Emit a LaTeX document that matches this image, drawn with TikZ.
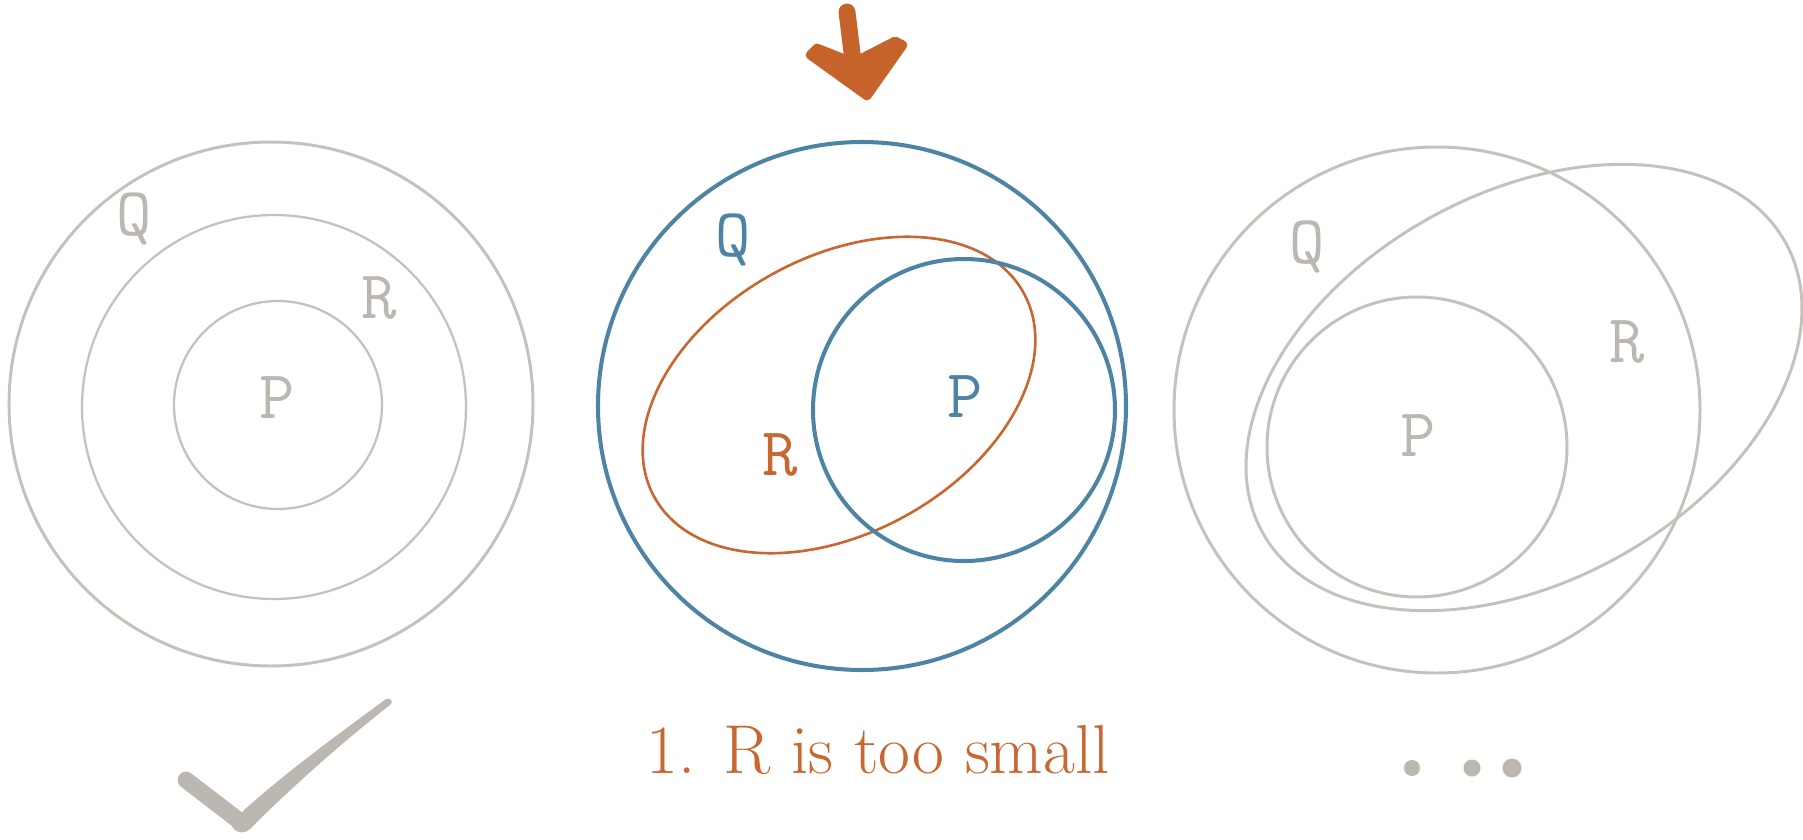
\documentclass[tikz,border=0pt]{standalone}
\usepackage{xcolor}
\usepackage{tikz}
\definecolor{setgray}{HTML}{C6C1BB}
\definecolor{labgray}{HTML}{BDB7B1}
\definecolor{setblue}{HTML}{4D84A6}
\definecolor{setorange}{HTML}{C8672F}
\definecolor{markorange}{HTML}{C6632A}
\tikzset{
  setline/.style={draw=setgray,line width=0.85pt},
  setthin/.style={setline,line width=0.65pt},
  blueline/.style={draw=setblue,line width=1.15pt},
  orangeline/.style={draw=setorange,line width=0.75pt},
  setlabel/.style={font=\fontsize{19.5}{22}\selectfont\ttfamily,text=labgray,inner sep=0pt},
  bluelabel/.style={setlabel,text=setblue},
  orangelabel/.style={setlabel,text=setorange},
  brush/.style={line cap=round,line join=round}
}
\begin{document}
\begin{tikzpicture}
  \useasboundingbox (0,0) rectangle (18.03,8.39);

  % Left: nested sets, all fine
  \draw[setline] (2.71,4.35) circle (2.62);
  \draw[setthin] (2.74,4.32) circle (1.92);
  \draw[setthin] (2.78,4.34) circle (1.04);
  \node[setlabel] (lq) at (1.34,6.20) {Q};
  \node[setlabel] (lr) at (3.79,5.41) {R};
  \node[setlabel] (lp) at (2.77,4.41) {P};

  % Middle: R does not contain P
  \draw[blueline] (8.62,4.33) circle (2.64);
  \draw[orangeline,rotate around={29:(8.39,4.44)}] (8.39,4.44) ellipse (2.11 and 1.38);
  \draw[blueline] (9.64,4.29) circle (1.51);
  \node[bluelabel] (mq) at (7.33,5.99) {Q};
  \node[bluelabel] (mp) at (9.65,4.42) {P};
  \node[orangelabel] (mr) at (7.80,3.84) {R};

  % Right: R too large
  \draw[setline] (14.37,4.29) circle (2.63);
  \draw[setline,rotate around={29:(15.24,4.515)}] (15.24,4.515) ellipse (2.99 and 1.94);
  \draw[setline] (14.17,3.92) circle (1.50);
  \node[setlabel] (rq) at (13.07,5.92) {Q};
  \node[setlabel] (rr) at (16.27,4.97) {R};
  \node[setlabel] (rp) at (14.18,4.03) {P};

  % Pointer over the middle case
  \draw[markorange,brush,line width=4.8pt] (8.47,8.27) -- (8.53,7.78);
  \filldraw[markorange,brush,line width=2.5pt] (8.10,7.84) -- (8.67,7.43) -- (9.03,7.94)
    -- (8.95,7.98) -- (8.60,7.80) -- (8.45,7.80) -- (8.17,7.91) -- cycle;

  % Caption, tick and dots
  \node[font=\fontsize{19.7}{23}\selectfont,text=setorange,anchor=base,inner sep=0pt]
    (cap) at (8.78,0.66) {1. R is too small};
  \draw[labgray,brush,line width=4.8pt] (1.86,0.59) -- (2.42,0.16);
  \fill[labgray] (2.32,0.13) .. controls (2.36,0.05) and (2.44,0.05) .. (2.50,0.10)
    .. controls (2.90,0.50) and (3.40,0.95) .. (3.90,1.34)
    .. controls (3.94,1.37) and (3.91,1.42) .. (3.86,1.40)
    .. controls (3.40,1.06) and (2.90,0.70) .. (2.44,0.29) -- cycle;
  \fill[labgray] (14.12,0.71) circle (0.08);
  \fill[labgray] (14.72,0.71) circle (0.085);
  \fill[labgray] (15.12,0.71) circle (0.095);
\end{tikzpicture}
\end{document}
